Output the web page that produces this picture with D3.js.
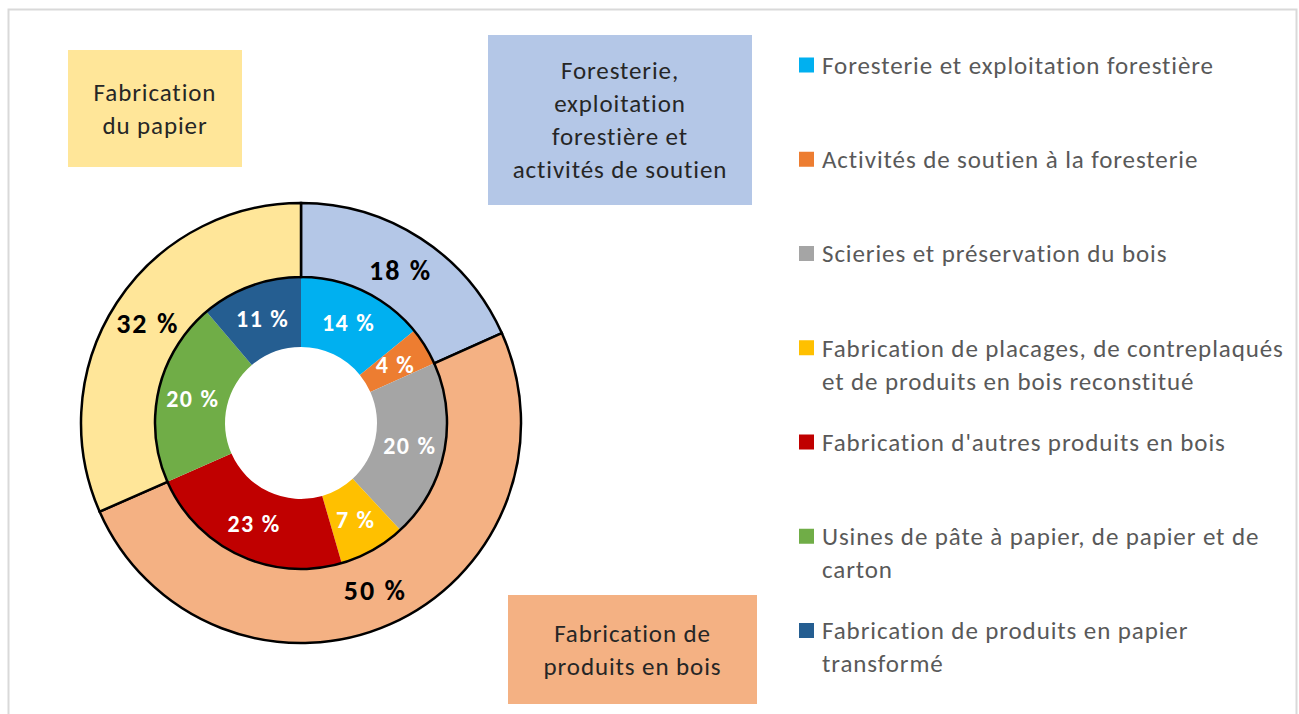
<!DOCTYPE html>
<html>
<head>
<meta charset="utf-8">
<script src="https://cdn.jsdelivr.net/npm/d3@7"></script>
<style>
  html, body { margin: 0; padding: 0; background: #fff; }
  svg text { font-family: Carlito, Calibri, Lato, sans-serif; }
</style>
</head>
<body>
<svg id="chart"></svg>
<script>
// Groupes (anneau extérieur) et sous-secteurs (anneau intérieur), en % du total
const groupNames = [
  ["Foresterie,", "exploitation", "forestière et", "activités de soutien"],
  ["Fabrication de", "produits en bois"],
  ["Fabrication", "du papier"]
];
const groupValues = [18.3, 50.1, 31.6];
const groupColors = ["#B4C7E7", "#F4B183", "#FFE699"];

const sectorNames = [
  ["Foresterie et exploitation forestière"],
  ["Activités de soutien à la foresterie"],
  ["Scieries et préservation du bois"],
  ["Fabrication de placages, de contreplaqués", "et de produits en bois reconstitué"],
  ["Fabrication d'autres produits en bois"],
  ["Usines de pâte à papier, de papier et de", "carton"],
  ["Fabrication de produits en papier", "transformé"]
];
const sectorValues = [14.1, 4.2, 19.8, 7.4, 22.9, 20.4, 11.2];
const sectorColors = ["#00B0F0", "#ED7D31", "#A5A5A5", "#FFC000", "#C00000", "#70AD47", "#255E91"];

const W = 1299, H = 714;
const cx = 301, cy = 423;
const rHole = 76, rMid = 146, rOuter = 220;

const svg = d3.select("#chart").attr("width", W).attr("height", H);

// cadre gris
svg.append("rect").attr("x", 8.5).attr("y", 9.5).attr("width", 1288).attr("height", 740)
  .attr("fill", "none").attr("stroke", "#D9D9D9").attr("stroke-width", 2);

const pie = d3.pie().sort(null).value(d => d);
const fmt = v => Math.round(v) + " %";

const g = svg.append("g").attr("transform", `translate(${cx},${cy})`);

// anneau intérieur : pas de contour entre les parts
const arcIn = d3.arc().innerRadius(rHole).outerRadius(rMid);
const inner = pie(sectorValues);
g.selectAll("path.in").data(inner).join("path")
  .attr("class", "in")
  .attr("d", arcIn)
  .attr("fill", (d, i) => sectorColors[i]);

// anneau extérieur : contour noir
const arcOut = d3.arc().innerRadius(rMid).outerRadius(rOuter);
const outer = pie(groupValues);
g.selectAll("path.out").data(outer).join("path")
  .attr("class", "out")
  .attr("d", arcOut)
  .attr("fill", (d, i) => groupColors[i])
  .attr("stroke", "#000").attr("stroke-width", 2.5);

// étiquettes
g.selectAll("text.in").data(inner).join("text")
  .attr("class", "in")
  .attr("transform", d => `translate(${arcIn.centroid(d)})`)
  .attr("text-anchor", "middle").attr("dy", "0.36em")
  .style("font-size", "24px").style("font-weight", "700").style("letter-spacing", "1.5px")
  .style("fill", "#fff")
  .text(d => fmt(d.value));

g.selectAll("text.out").data(outer).join("text")
  .attr("class", "out")
  .attr("transform", d => `translate(${arcOut.centroid(d)})`)
  .attr("text-anchor", "middle").attr("dy", "0.36em")
  .style("font-size", "28px").style("font-weight", "700").style("letter-spacing", "2px")
  .style("fill", "#000")
  .text(d => fmt(d.value));

// encadrés des groupes
const boxes = [
  { x: 488, y: 35, w: 264, h: 170 },
  { x: 508, y: 595, w: 249, h: 109 },
  { x: 68, y: 50, w: 174, h: 117 }
];
const lineH = 33;
boxes.forEach((b, i) => {
  svg.append("rect").attr("x", b.x).attr("y", b.y).attr("width", b.w).attr("height", b.h)
    .attr("fill", groupColors[i]);
  const lines = groupNames[i];
  const y0 = b.y + b.h / 2 - (lines.length - 1) * lineH / 2;
  const t = svg.append("text").attr("text-anchor", "middle")
    .style("font-size", "25px").style("letter-spacing", "0.9px").style("fill", "#262626");
  lines.forEach((s, j) => {
    t.append("tspan").attr("x", b.x + b.w / 2).attr("y", y0 + j * lineH).attr("dy", "0.35em").text(s);
  });
});

// légende
const legY = d3.scalePoint().domain(d3.range(sectorNames.length)).range([65, 630.5]);
const leg = svg.append("g");
sectorNames.forEach((lines, i) => {
  const y = legY(i);
  leg.append("rect").attr("x", 799).attr("y", y - 7.5).attr("width", 15).attr("height", 15)
    .attr("fill", sectorColors[i]);
  const t = leg.append("text").style("font-size", "25px").style("letter-spacing", "0.9px")
    .style("fill", "#595959");
  lines.forEach((s, j) => {
    t.append("tspan").attr("x", 822).attr("y", y + j * lineH).attr("dy", "0.35em").text(s);
  });
});
</script>
</body>
</html>
